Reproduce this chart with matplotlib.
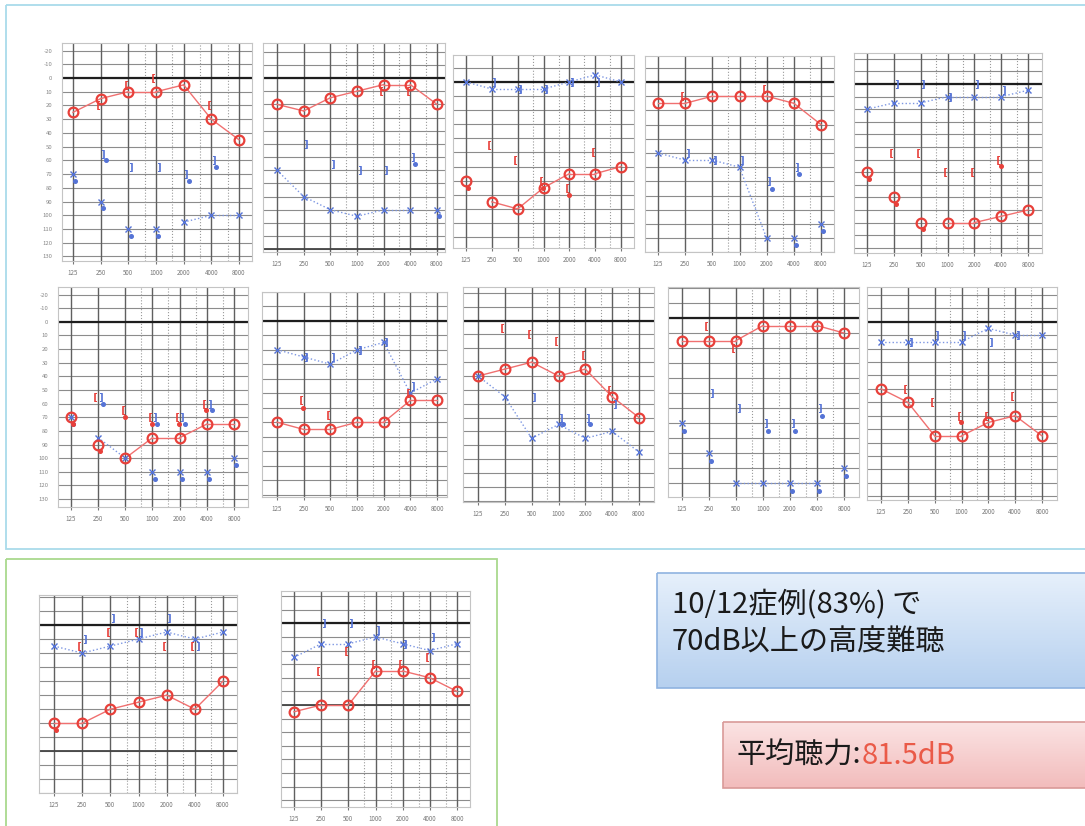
import matplotlib.pyplot as plt
import numpy as np
from matplotlib.patches import Rectangle
from matplotlib.ticker import NullLocator

plt.rcParams['font.family'] = ['Noto Sans CJK JP', 'DejaVu Sans']

W, H = 1085, 826

FREQS = [125, 250, 500, 1000, 2000, 4000, 8000]
FREQ_LABELS = ['125', '250', '500', '1000', '2000', '4000', '8000']
MID_FREQS = [750, 1500, 3000, 6000]
DB_LEVELS = list(range(-20, 140, 10))

# 右耳 気導 (O)
R_AC = [
    [25, 15, 10, 10, 5, 30, 45],
    [20, 25, 15, 10, 5, 5, 20],
    [70, 85, 90, 75, 65, 65, 60],
    [15, 15, 10, 10, 10, 15, 30],
    [70, 90, 110, 110, 110, 105, 100],
    [70, 90, 100, 85, 85, 75, 75],
    [70, 75, 75, 70, 70, 55, 55],
    [40, 35, 30, 40, 35, 55, 70],
    [15, 15, 15, 5, 5, 5, 10],
    [50, 60, 85, 85, 75, 70, 85],
    [70, 70, 60, 55, 50, 60, 40],
    [65, 60, 60, 35, 35, 40, 50],
]
R_AC_NR = ['0000000', '0000000', '1000000', '0000000', '1110000', '1100000',
           '0000000', '0000000', '0000000', '0000000', '1000000', '0000000']
R_AC_LINK = ['111111', '111111', '011111', '111111', '000111', '001111',
             '111111', '111111', '111111', '111111', '111111', '111111']

# 左耳 気導 (X)
L_AC = [
    [70, 90, 110, 110, 105, 100, 100],
    [70, 90, 100, 105, 100, 100, 100],
    [0, 5, 5, 5, 0, -5, 0],
    [50, 55, 55, 60, 110, 110, 100],
    [20, 15, 15, 10, 10, 10, 5],
    [70, 85, 100, 110, 110, 110, 100],
    [20, 25, 30, 20, 15, 50, 40],
    [40, 55, 85, 75, 85, 80, 95],
    [70, 90, 110, 110, 110, 110, 100],
    [15, 15, 15, 15, 5, 10, 10],
    [15, 20, 15, 10, 5, 10, 5],
    [25, 15, 15, 10, 15, 20, 15],
]
L_AC_NR = ['1111000', '0000001', '0000000', '0000011', '0000000', '1001111',
           '0000000', '0000000', '1100111', '0000000', '0000000', '0000000']
L_AC_LINK = ['000011', '111110', '111111', '111100', '111111', '010000',
             '111111', '111111', '001110', '111111', '111111', '111111']

# 骨導 右 [ / 左 ]
R_BC = [
    [None, 20, 5, 0, None, 20, None],
    [None, None, None, None, 10, 10, None],
    [None, 45, 55, 70, 75, 50, None],
    [None, 10, None, None, 5, None, None],
    [None, 55, 55, 70, 70, 60, None],
    [None, 55, 65, 70, 70, 60, None],
    [None, 55, 65, None, None, 50, None],
    [None, 5, 10, 15, 25, 50, None],
    [None, 5, 20, None, None, None, None],
    [None, 50, 60, 70, 70, 55, None],
    [None, 15, 5, 5, 15, 15, None],
    [None, 35, 20, 30, 30, 25, None],
]
R_BC_NR = ['0000000', '0000000', '0001100', '0000000', '0000010', '0011110',
           '0100000', '0000000', '0000000', '0001000', '0000000', '0000000']

L_BC = [
    [None, 55, 65, 65, 70, 60, None],
    [None, 50, 65, 70, 70, 60, None],
    [None, 0, 5, 5, 0, 0, None],
    [None, 50, 55, 55, 70, 60, None],
    [None, 0, 0, 10, 0, 5, None],
    [None, 55, None, 70, 70, 60, None],
    [None, 25, 25, 20, 15, 45, None],
    [None, None, 55, 70, 70, 60, None],
    [None, 50, 60, 70, 70, 60, None],
    [None, 15, 10, 10, 15, 10, None],
    [None, 10, -5, 5, -5, 15, None],
    [None, 0, 0, 5, 15, 10, None],
]
L_BC_NR = ['0100110', '0000010', '0000000', '0000110', '0000000', '0101110',
           '0000000', '0001100', '0001110', '0000000', '0000000', '0000000']

# パネル配置 (px): left, top, right, bottom, dB at top, dB at bottom, x of 125, x of 8000
PANELS = [
    (62, 43, 252, 261, -25.5, 133.3, 73, 239),
    (263, 43, 445, 252, -26.6, 132.1, 277, 437),
    (453, 55, 634, 248, -19.1, 117.7, 466, 621),
    (645, 56, 834, 252, -18.3, 119.7, 658, 821),
    (854, 53, 1042, 253, -24.6, 134.1, 867, 1028),
    (58, 287, 248, 507, -25.5, 135.8, 71, 234),
    (262, 292, 447, 497, -19.8, 121.6, 277, 437),
    (463, 287, 654, 502, -24.3, 131.0, 478, 639),
    (668, 287, 859, 497, -20.7, 119.3, 682, 844),
    (867, 287, 1057, 500, -25.8, 132.7, 881, 1042),
    (39, 595, 237, 793, -21.4, 119.7, 54, 223),
    (281, 591, 470, 807, -23.8, 135.0, 294, 457),
]
Y_LABELED = {0, 5}
EXTRA_THICK = {1: [130], 10: [90], 11: [60]}

RED = '#e8403a'
RED_LINE = '#f07070'
BLUE = '#5573d6'
BLUE_LINE = '#7c96e2'

fig = plt.figure(figsize=(W / 100, H / 100), dpi=100)

# 背景の枠とテキストボックス
bg = fig.add_axes([0, 0, 1, 1], zorder=-5)
bg.set_xlim(0, W)
bg.set_ylim(H, 0)
bg.axis('off')
bg.add_patch(Rectangle((6, 5), W, 544, fill=False, ec='#a9dbea', lw=1.3))
bg.add_patch(Rectangle((6, 559), 491, 290, fill=False, ec='#a9d98e', lw=1.3))


def gradient_box(x0, y0, x1, y1, c_top, c_bot, edge):
    top = np.array(plt.matplotlib.colors.to_rgb(c_top))
    bot = np.array(plt.matplotlib.colors.to_rgb(c_bot))
    t = np.linspace(0, 1, 64)[:, None, None]
    img = top * (1 - t) + bot * t
    img = np.repeat(img, 2, axis=1)
    bg.imshow(img, extent=(x0, x1, y1, y0), aspect='auto', zorder=1)
    bg.add_patch(Rectangle((x0, y0), x1 - x0, y1 - y0, fill=False, ec=edge, lw=1.2, zorder=2))


gradient_box(657, 573, W + 5, 688, '#e6f0fb', '#b6d0ef', '#8fb3e0')
gradient_box(723, 722, W + 5, 788, '#fbe3e3', '#f2bcbc', '#d99a98')
bg.set_xlim(0, W)
bg.set_ylim(H, 0)

bg.text(672, 604, '10/12症例(83%) で', fontsize=21, va='center', ha='left', color='#1a1a1a', zorder=3)
bg.text(672, 643, '70dB以上の高度難聴', fontsize=21, va='center', ha='left', color='#1a1a1a', zorder=3)
t1 = bg.text(737, 756, '平均聴力:', fontsize=21, va='center', ha='left', color='#1a1a1a', zorder=3)
bg.annotate('81.5dB', xy=(1, 0.5), xycoords=t1, va='center', ha='left',
            fontsize=21, color='#ea5a48', zorder=3)


def plot_curve(ax, vals, nr, link, color, line_color, marker, ms, mew, ls, shift=1.0):
    xs = [f * shift for f in FREQS]
    for k in range(6):
        if link[k] == '1' and vals[k] is not None and vals[k + 1] is not None:
            ax.plot([xs[k], xs[k + 1]], [vals[k], vals[k + 1]], color=line_color,
                    lw=1.0, ls=ls, zorder=3)
    px = [x for x, v in zip(xs, vals) if v is not None]
    py = [v for v in vals if v is not None]
    ax.plot(px, py, ls='none', marker=marker, ms=ms, mfc='none', mec=color,
            mew=mew, zorder=4)
    dx = [x * 2 ** 0.08 for x, v, n in zip(xs, vals, nr) if v is not None and n == '1']
    dy = [v + 5 for v, n in zip(vals, nr) if v is not None and n == '1']
    ax.plot(dx, dy, ls='none', marker='o', ms=2.6, color=color, zorder=4)


for i, (l, t, r, b, db_top, db_bot, x125, x8k) in enumerate(PANELS):
    ax = fig.add_axes([l / W, 1 - b / H, (r - l) / W, (b - t) / H])
    ax.set_xscale('log')
    per_oct = (x8k - x125) / 6
    ax.set_xlim(125 * 2 ** (-(x125 - l) / per_oct), 8000 * 2 ** ((r - x8k) / per_oct))
    ax.set_ylim(db_bot, db_top)

    for d in DB_LEVELS:
        ax.axhline(d, color='#8c8c8c', lw=0.8, zorder=1)
    ax.axhline(0, color='#1e1e1e', lw=1.6, zorder=2)
    for d in EXTRA_THICK.get(i, []):
        ax.axhline(d, color='#444444', lw=1.3, zorder=2)
    for f in FREQS:
        ax.axvline(f, color='#606060', lw=1.0, zorder=1)
    for f in MID_FREQS:
        ax.axvline(f, color='#9a9a9a', lw=0.8, ls=':', zorder=1)

    ax.set_xticks(FREQS, FREQ_LABELS)
    ax.xaxis.set_minor_locator(NullLocator())
    ax.tick_params(axis='x', length=2.5, width=0.8, color='#777777', pad=3,
                   labelsize=4.5, labelcolor='#777777')
    if i in Y_LABELED:
        ax.set_yticks(DB_LEVELS, [str(d) for d in DB_LEVELS])
        ax.tick_params(axis='y', length=0, pad=7, labelsize=4.3, labelcolor='#888888')
    else:
        ax.set_yticks([])
    for s in ax.spines.values():
        s.set_color('#c4c4c4')
        s.set_linewidth(0.8)

    plot_curve(ax, L_AC[i], L_AC_NR[i], L_AC_LINK[i], BLUE, BLUE_LINE, 'x', 5, 1.0, ':')
    plot_curve(ax, R_AC[i], R_AC_NR[i], R_AC_LINK[i], RED, RED_LINE, 'o', 7, 1.6, '-')
    plot_curve(ax, R_BC[i], R_BC_NR[i], '000000', RED, RED, '$[$', 6, 0.6, '-', 2 ** -0.1)
    plot_curve(ax, L_BC[i], L_BC_NR[i], '000000', BLUE, BLUE, '$]$', 6, 0.6, '-', 2 ** 0.1)

fig.savefig('out.png', dpi=100)
